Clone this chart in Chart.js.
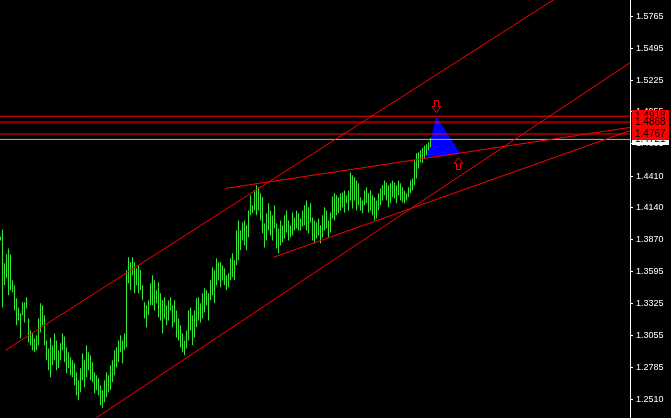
<!DOCTYPE html>
<html><head><meta charset="utf-8">
<script src="https://cdn.jsdelivr.net/npm/chart.js@4"></script>
<style>html,body{margin:0;padding:0;background:#000;overflow:hidden}</style>
</head><body>
<canvas id="c" width="671" height="418" style="display:block;width:671px;height:418px"></canvas>
<script>
// ---- data (prices) ----
const highs = [
1.3897,1.3956,1.3669,1.3745,1.3795,1.3745,1.3524,1.3482,1.3371,1.3294,
1.3244,1.3337,1.3337,1.3380,1.3201,1.3099,1.3074,1.3031,1.3057,1.3201,
1.3329,1.3312,1.3227,1.3014,1.2946,1.3039,1.2972,1.3074,1.3014,1.2930,
1.2989,1.3074,1.3048,1.2955,1.2913,1.2871,1.2845,1.2820,1.2743,1.2675,
1.2777,1.2905,1.2845,1.2972,1.2913,1.2888,1.2828,1.2743,1.2718,1.2692,
1.2633,1.2590,1.2675,1.2743,1.2718,1.2803,1.2845,1.2930,1.2955,1.3014,
1.3057,1.3014,1.3074,1.3609,1.3720,1.3677,1.3720,1.3677,1.3626,1.3652,
1.3609,1.3482,1.3337,1.3312,1.3354,1.3499,1.3567,1.3524,1.3439,1.3507,
1.3414,1.3354,1.3380,1.3312,1.3354,1.3380,1.3312,1.3354,1.3269,1.3201,
1.3142,1.3074,1.3014,1.3099,1.3269,1.3294,1.3227,1.3269,1.3371,1.3380,
1.3329,1.3414,1.3456,1.3439,1.3414,1.3524,1.3635,1.3609,1.3711,1.3677,
1.3677,1.3652,1.3626,1.3567,1.3584,1.3711,1.3754,1.3694,1.3948,1.4033,
1.3948,1.4016,1.4033,1.3991,1.4118,1.4246,1.4161,1.4288,1.4331,1.4314,
1.4263,1.4229,1.4008,1.4093,1.4178,1.4118,1.4076,1.4161,1.4008,1.3965,
1.4033,1.3991,1.4076,1.4118,1.4033,1.3991,1.4101,1.4058,1.4118,1.4093,
1.4050,1.4118,1.4161,1.4203,1.4144,1.4178,1.4058,1.4033,1.4016,1.4050,
1.3991,1.4076,1.4144,1.4118,1.4033,1.4101,1.4237,1.4263,1.4246,1.4229,
1.4263,1.4271,1.4288,1.4246,1.4288,1.4441,1.4416,1.4399,1.4373,1.4348,
1.4229,1.4203,1.4288,1.4314,1.4263,1.4288,1.4246,1.4229,1.4203,1.4263,
1.4305,1.4331,1.4373,1.4356,1.4331,1.4348,1.4373,1.4356,1.4331,1.4373,
1.4348,1.4314,1.4288,1.4263,1.4314,1.4373,1.4390,1.4543,1.4603,1.4611,
1.4628,1.4645,1.4670,1.4679,1.4696,1.4730];
const lows = [
1.3863,1.3294,1.3482,1.3541,1.3397,1.3439,1.3422,1.3269,1.3142,1.3184,
1.3031,1.3227,1.3167,1.3286,1.2997,1.2972,1.2930,1.2913,1.2930,1.2972,
1.3082,1.3142,1.2972,1.2845,1.2760,1.2701,1.2803,1.2845,1.2760,1.2777,
1.2845,1.2930,1.2828,1.2735,1.2777,1.2718,1.2701,1.2633,1.2548,1.2505,
1.2573,1.2675,1.2616,1.2701,1.2760,1.2675,1.2658,1.2565,1.2590,1.2548,
1.2463,1.2437,1.2488,1.2531,1.2573,1.2590,1.2658,1.2718,1.2786,1.2828,
1.2913,1.2820,1.2930,1.2955,1.3499,1.3439,1.3567,1.3414,1.3482,1.3414,
1.3439,1.3354,1.3201,1.3125,1.3227,1.3312,1.3312,1.3269,1.3329,1.3210,
1.3184,1.3074,1.3201,1.3142,1.3184,1.3269,1.3125,1.3167,1.3039,1.3014,
1.2955,1.2913,1.2888,1.2946,1.3014,1.3099,1.2972,1.3039,1.3125,1.3184,
1.3167,1.3201,1.3252,1.3312,1.3184,1.3354,1.3397,1.3329,1.3482,1.3524,
1.3465,1.3524,1.3482,1.3439,1.3465,1.3524,1.3550,1.3524,1.3652,1.3694,
1.3779,1.3863,1.3821,1.3779,1.3889,1.4076,1.4093,1.4118,1.4076,1.4118,
1.4033,1.3923,1.3804,1.3863,1.3948,1.3906,1.3863,1.3965,1.3795,1.3754,
1.3821,1.3846,1.3880,1.3931,1.3863,1.3889,1.3906,1.3948,1.3965,1.3948,
1.3948,1.3982,1.3991,1.3948,1.3923,1.4016,1.3863,1.3838,1.3880,1.3906,
1.3838,1.3889,1.3948,1.3965,1.3889,1.3931,1.4050,1.4033,1.4076,1.4093,
1.4118,1.4144,1.4101,1.4178,1.4118,1.4203,1.4135,1.4203,1.4118,1.4161,
1.4118,1.4093,1.4161,1.4178,1.4101,1.4118,1.4076,1.4033,1.4050,1.4118,
1.4161,1.4203,1.4246,1.4203,1.4144,1.4178,1.4229,1.4220,1.4178,1.4246,
1.4203,1.4186,1.4178,1.4203,1.4229,1.4263,1.4288,1.4331,1.4390,1.4475,
1.4526,1.4518,1.4560,1.4586,1.4628,1.4654];
const tickValues = [1.5765,1.5495,1.5225,1.4955,1.4685,1.4410,1.4140,1.3870,1.3595,1.3325,1.3055,1.2785,1.2510];
const levelPrices = [1.4918,1.4868,1.4767];
const bidPrice = 1.4721;
// trend lines: start/end bar index and price
const lineStartIdx   = [2.5,    40.5,   112.5,  136.5];
const lineStartPrice = [1.2930, 1.2273, 1.4305, 1.3720];
const lineEndIdx     = [300.5,  315,    315,    315];
const lineEndPrice   = [1.6167, 1.5375, 1.4823, 1.4797];
// triangle object
const triangleIdx   = [217.85, 212.85, 230];
const trianglePrice = [1.4918, 1.4571, 1.4599];
// arrow objects (tip position)
const arrowDown = [217.9, 1.4950];
const arrowUp   = [228.9, 1.4568];

const RED = '#ff0000';
const GREEN = 'rgb(50,232,50)';
const datasets = [];
for (let k = 0; k < lineStartIdx.length; k++) {
  datasets.push({type:'line', data:[{x:lineStartIdx[k], y:lineStartPrice[k]},{x:lineEndIdx[k], y:lineEndPrice[k]}],
    borderColor:RED, backgroundColor:RED, borderWidth:1, pointRadius:0, fill:false, tension:0, order:0});
}
levelPrices.forEach(p => datasets.push({type:'line', data:[{x:-1,y:p},{x:316,y:p}],
  borderColor:RED, backgroundColor:RED, borderWidth:1, pointRadius:0, fill:false, order:0}));
datasets.push({type:'line', data:[{x:-1,y:bidPrice},{x:316,y:bidPrice}],
  borderColor:'#b4b4c4', backgroundColor:'#b4b4c4', borderWidth:1, pointRadius:0, fill:false, order:0});
datasets.push({type:'bar', data: highs.map((h,i)=>({x:i, y:[lows[i], h]})),
  backgroundColor:GREEN, borderColor:GREEN, hoverBackgroundColor:GREEN, borderWidth:0,
  barThickness:1, inflateAmount:0, borderSkipped:false, order:1});

const trianglePlugin = {
  id:'triangle',
  beforeDatasetsDraw(chart){
    const {ctx, scales:{x,y}} = chart;
    ctx.save();
    ctx.beginPath();
    triangleIdx.forEach((v,i)=>{
      const px = x.getPixelForValue(v), py = y.getPixelForValue(trianglePrice[i]);
      if (i===0) ctx.moveTo(px,py); else ctx.lineTo(px,py);
    });
    ctx.closePath();
    ctx.fillStyle = '#0000ff';
    ctx.fill();
    ctx.restore();
  }
};
const arrowPlugin = {
  id:'arrows',
  afterDatasetsDraw(chart){
    const {ctx, scales:{x,y}} = chart;
    const draw = (pt, dir) => {
      const px = Math.round(x.getPixelForValue(pt[0])) + 0.5;
      const py = Math.round(y.getPixelForValue(pt[1])) + 0.5;
      const s = dir;
      ctx.beginPath();
      ctx.moveTo(px, py);
      ctx.lineTo(px - 4.5, py - 6*s);
      ctx.lineTo(px - 2, py - 6*s);
      ctx.lineTo(px - 2, py - 12*s);
      ctx.lineTo(px + 2, py - 12*s);
      ctx.lineTo(px + 2, py - 6*s);
      ctx.lineTo(px + 4.5, py - 6*s);
      ctx.closePath();
      ctx.stroke();
    };
    ctx.save();
    ctx.strokeStyle = RED; ctx.lineWidth = 1;
    draw(arrowDown, 1);
    draw(arrowUp, -1);
    ctx.restore();
  }
};
const labelPlugin = {
  id:'priceLabels',
  afterDraw(chart){
    const {ctx, scales:{y}} = chart;
    ctx.save();
    ctx.font = '10px "Liberation Sans", Arial, sans-serif';
    ctx.textBaseline = 'middle';
    const box = (p, bg, fg) => {
      const py = Math.round(y.getPixelForValue(p));
      ctx.fillStyle = bg; ctx.fillRect(632, py - 6, 37, 12);
      ctx.fillStyle = fg; ctx.fillText(p.toFixed(4), 635, py + 0.5);
    };
    box(bidPrice, '#ffffff', '#000000');
    levelPrices.forEach(p => box(p, '#ff0000', '#000000'));
    ctx.restore();
  }
};
const bgPlugin = {
  id:'bg',
  beforeDraw(chart){ const c=chart.ctx; c.save(); c.fillStyle='#000'; c.fillRect(0,0,chart.width,chart.height); c.restore(); }
};

new Chart(document.getElementById('c'), {
  type:'bar',
  data:{datasets},
  plugins:[bgPlugin, trianglePlugin, arrowPlugin, labelPlugin],
  options:{
    responsive:false, animation:false, devicePixelRatio:1,
    layout:{padding:0},
    plugins:{legend:{display:false}, tooltip:{enabled:false}, colors:{enabled:false}},
    scales:{
      x:{type:'linear', display:false, min:-0.25, max:314.75, offset:false, grid:{display:false}},
      y:{type:'linear', position:'right', min:1.2355, max:1.5905,
        afterBuildTicks: s => { s.ticks = tickValues.map(v => ({value:v})); },
        afterFit: s => { s.width = 41; s.paddingTop = 0; s.paddingBottom = 0; },
        ticks:{color:'#ffffff', font:{family:'"Liberation Sans", Arial, sans-serif', size:9}, padding:3, autoSkip:false,
          callback: v => Number(v).toFixed(4)},
        grid:{drawOnChartArea:false, drawTicks:true, tickLength:3, color:'#ffffff'},
        border:{display:true, color:'#ffffff', width:1}
      }
    }
  }
});
</script>
</body></html>
